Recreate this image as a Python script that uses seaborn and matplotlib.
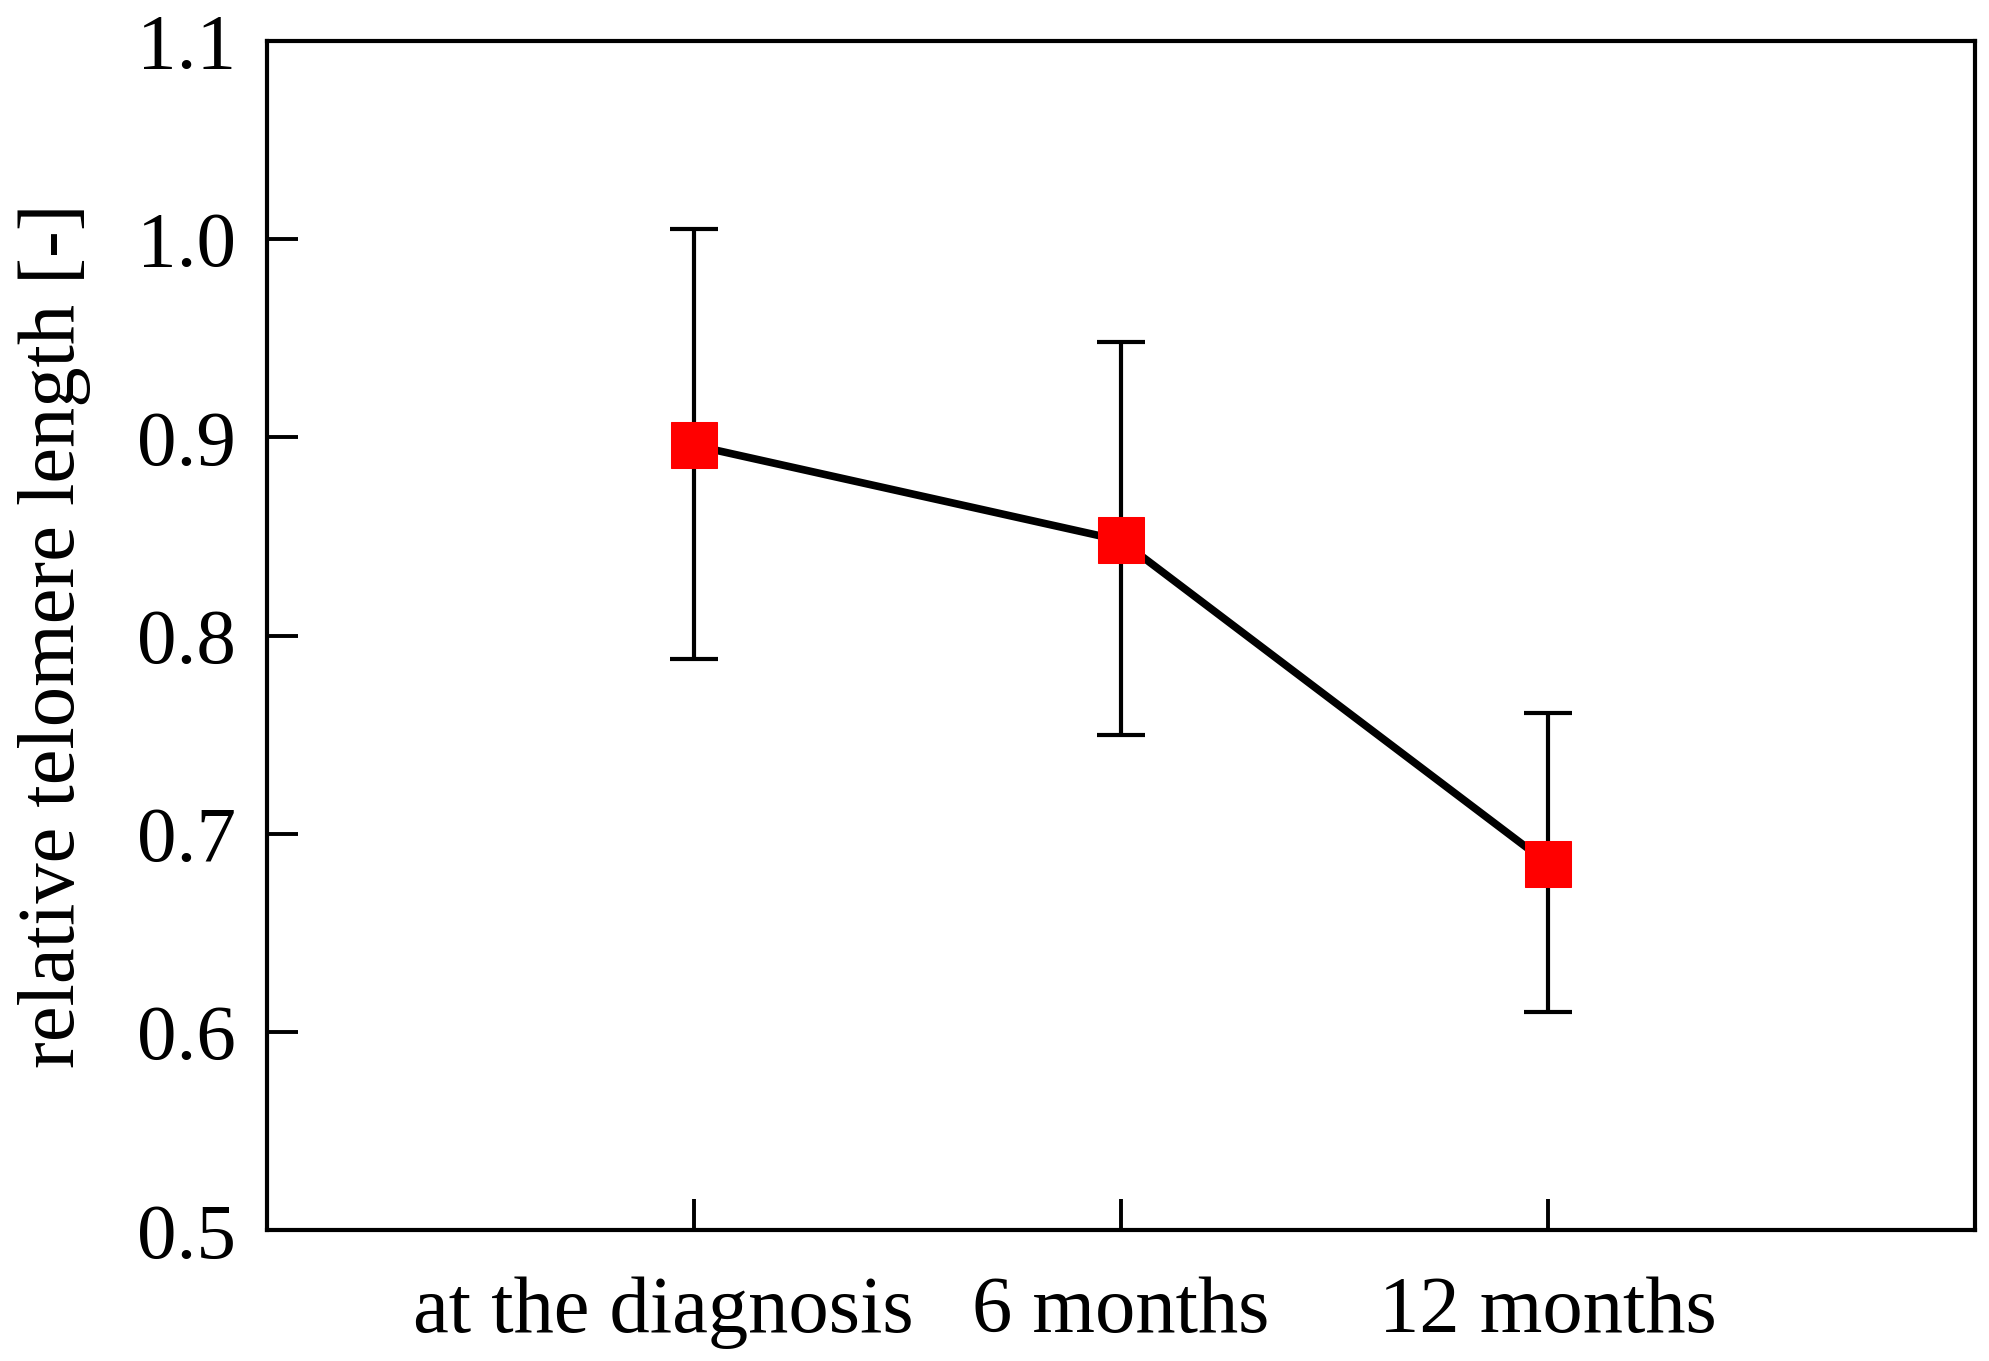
import pandas as pd
import seaborn as sns
import matplotlib.pyplot as plt
import matplotlib.transforms as mtransforms
import numpy as np

# values
timepoints = ["at the diagnosis", "6 months", "12 months"]
telomere_mean = [0.896, 0.848, 0.685]
err_upper = [1.005, 0.948, 0.761]
err_lower = [0.788, 0.750, 0.610]

df = pd.DataFrame({"pos": np.arange(len(timepoints)), "tl": telomere_mean})

sns.set_style("white")
plt.rcParams["font.family"] = ["Liberation Serif", "DejaVu Serif"]
plt.rcParams["text.color"] = "black"
plt.rcParams["xtick.color"] = "black"
plt.rcParams["ytick.color"] = "black"
plt.rcParams["axes.labelcolor"] = "black"

fig, ax = plt.subplots(figsize=(19.89, 13.61), dpi=100)
fig.subplots_adjust(left=0.134, right=0.993, top=0.970, bottom=0.096)

# error bars underneath the markers
yerr = [np.array(telomere_mean) - np.array(err_lower), np.array(err_upper) - np.array(telomere_mean)]
ax.errorbar(df["pos"], df["tl"], yerr=yerr, fmt="none", ecolor="black",
            elinewidth=3, capsize=17, capthick=3, zorder=1)

sns.lineplot(x="pos", y="tl", data=df, color="black", linewidth=5.5,
             marker="s", markersize=33, markerfacecolor="#ff0000",
             markeredgecolor="#ff0000", ax=ax, zorder=3)

ax.set_xlim(-1, 3)
ax.set_ylim(0.5, 1.1)
ax.set_xticks(df["pos"])
ax.set_xticklabels(timepoints)
ax.set_yticks(np.arange(0.5, 1.11, 0.1))
ax.set_yticklabels([f"{v:.1f}" for v in np.arange(0.5, 1.11, 0.1)])

ax.tick_params(axis="x", direction="in", length=22, width=2.8, pad=33,
               labelsize=58, bottom=True, top=False)
ax.tick_params(axis="y", direction="in", length=22, width=2.8, pad=22,
               labelsize=57, left=True, right=False)

# first label sits a little left of its tick in the original
lbl = ax.get_xticklabels()[0]
lbl.set_transform(lbl.get_transform() + mtransforms.ScaledTranslation(-0.3, 0, fig.dpi_scale_trans))

for s in ax.spines.values():
    s.set_linewidth(3)
    s.set_color("black")

ax.set_xlabel("")
ax.set_ylabel("relative telomere length [-]", fontsize=58)
ax.yaxis.set_label_coords(-0.103, 0.5)

fig.savefig("out.png", dpi=100, facecolor="white")
